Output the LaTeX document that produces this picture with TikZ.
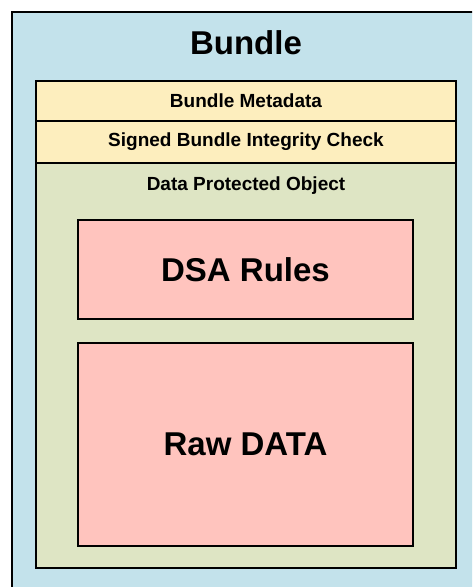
\documentclass[tikz,border=0pt]{standalone}
\usepackage{fontspec}
\setmainfont{Liberation Sans}
\usepackage{tikz}

\definecolor{bundleblue}{RGB}{195,226,235}
\definecolor{metayellow}{RGB}{253,238,190}
\definecolor{objgreen}{RGB}{222,229,196}
\definecolor{rulepink}{RGB}{255,196,190}

\tikzset{
  layer/.style={draw, line width=2pt, fill=metayellow, minimum width=420pt,
    inner sep=0pt, font=\fontsize{19}{22}\selectfont\bfseries},
  bigbox/.style={draw, line width=2pt, fill=rulepink, minimum width=335pt,
    inner sep=0pt, font=\fontsize{33}{38}\selectfont\bfseries}
}

\begin{document}
\begin{tikzpicture}[x=1pt, y=-1pt]
        \useasboundingbox (0, 0) rectangle (472, 587);
        \clip (0, 0) rectangle (472, 587);
        \draw[line width=2.5pt, fill=bundleblue] (12, 12) rectangle (495, 605);
        \node[font=\fontsize{33}{38}\selectfont\bfseries] (bundle) at (246, 43) {Bundle};
        % header layers
        \node[layer, minimum height=40pt] (meta) at (246, 101) {Bundle Metadata};
        \node[layer, minimum height=42pt] (check) at (246, 142) {Signed Bundle Integrity Check};
        \node[layer, fill=objgreen, minimum height=405pt] (dpo) at (246, 365.5) {};
        \node[font=\fontsize{19}{22}\selectfont\bfseries] (dpolabel) at (246, 186) {Data Protected Object};
        % payload
        \node[bigbox, minimum height=99pt] (rules) at (245.5, 269.5) {DSA Rules};
        \node[bigbox, minimum height=203pt] (rawdata) at (245.5, 444.5) {Raw DATA};
      \end{tikzpicture}
\end{document}
